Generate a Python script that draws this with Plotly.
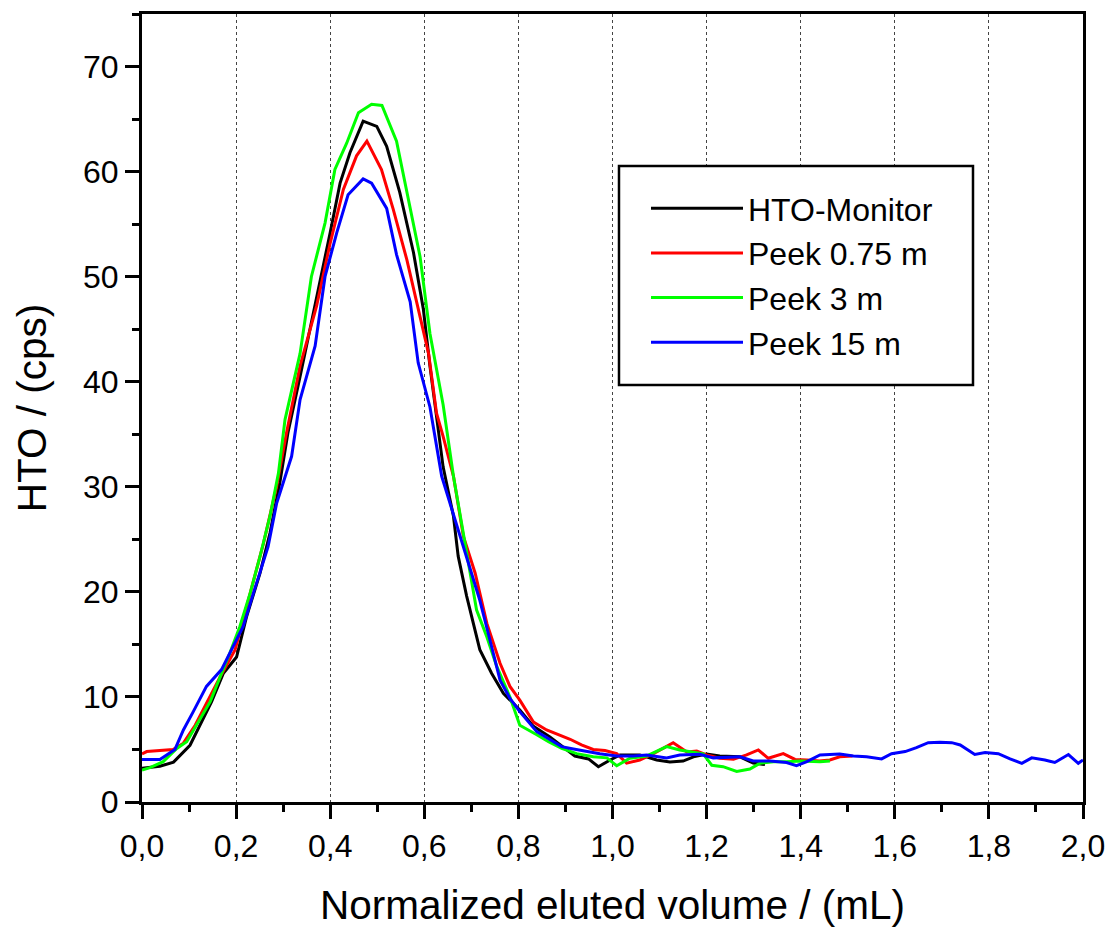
import plotly.graph_objects as go

black_x = [0.0, 0.038, 0.067, 0.102, 0.148, 0.173, 0.201, 0.222, 0.251, 0.272,
           0.293, 0.31, 0.336, 0.368, 0.40, 0.421, 0.442, 0.470, 0.499, 0.52,
           0.548, 0.577, 0.598, 0.612, 0.626, 0.640, 0.662, 0.672, 0.69, 0.718,
           0.743, 0.768, 0.803, 0.832, 0.867, 0.895, 0.92, 0.949, 0.97, 0.995,
           1.016, 1.058, 1.094, 1.122, 1.15, 1.172, 1.20, 1.228, 1.271, 1.299, 1.324]
black_y = [3.2, 3.4, 3.8, 5.4, 9.55, 12.25, 13.8, 17.6, 21.8, 25.6,
           30.4, 35.1, 40.5, 47.2, 54.2, 58.9, 61.8, 64.8, 64.3, 62.4,
           58.0, 52.3, 46.9, 41.5, 36.7, 31.9, 27.2, 23.4, 19.6, 14.5,
           12.25, 10.35, 8.76, 7.2, 6.2, 5.27, 4.38, 4.1, 3.36, 4.0,
           4.48, 4.48, 4.0, 3.8, 3.9, 4.3, 4.57, 4.38, 4.3, 3.7, 3.57]

red_x = [0.0, 0.01, 0.066, 0.088, 0.113, 0.137, 0.166, 0.198, 0.23, 0.258,
         0.286, 0.307, 0.336, 0.371, 0.40, 0.428, 0.456, 0.478, 0.509, 0.534,
         0.563, 0.591, 0.609, 0.626, 0.64, 0.662, 0.683, 0.708, 0.733, 0.761,
         0.782, 0.803, 0.832, 0.86, 0.881, 0.91, 0.934, 0.959, 0.984, 1.009,
         1.03, 1.058, 1.087, 1.108, 1.129, 1.158, 1.179, 1.20, 1.228, 1.257,
         1.285, 1.31, 1.331, 1.363, 1.388, 1.413, 1.44, 1.462, 1.483, 1.51]
red_y = [4.57, 4.8, 5.0, 5.6, 7.3, 9.4, 11.9, 14.5, 19.9, 24.6,
         30.0, 35.1, 41.5, 47.2, 53.2, 58.3, 61.5, 62.9, 60.2, 56.4,
         51.6, 46.2, 42.7, 37.0, 34.8, 31.0, 25.3, 21.8, 17.0, 13.2,
         11.0, 9.7, 7.6, 6.86, 6.5, 5.97, 5.43, 5.0, 4.9, 4.6,
         3.7, 4.0, 4.6, 5.1, 5.65, 4.77, 4.86, 4.48, 4.16, 4.06,
         4.48, 4.95, 4.16, 4.6, 4.05, 4.0, 3.9, 4.0, 4.3, 4.38]

green_x = [0.0, 0.017, 0.045, 0.074, 0.095, 0.123, 0.145, 0.166, 0.187, 0.208,
           0.23, 0.251, 0.272, 0.29, 0.304, 0.336, 0.36, 0.389, 0.41, 0.435,
           0.46, 0.488, 0.51, 0.541, 0.566, 0.591, 0.612, 0.64, 0.662, 0.683,
           0.711, 0.733, 0.754, 0.782, 0.803, 0.839, 0.864, 0.892, 0.924, 0.959,
           0.988, 1.009, 1.037, 1.073, 1.094, 1.115, 1.143, 1.172, 1.193, 1.211,
           1.235, 1.264, 1.292, 1.313, 1.342, 1.37, 1.40, 1.441, 1.462]
green_y = [3.05, 3.27, 3.84, 5.1, 5.74, 7.8, 9.55, 11.9, 14.2, 16.7,
           19.9, 23.4, 27.2, 31.3, 36.4, 42.7, 50.0, 55.1, 60.2, 62.7,
           65.6, 66.4, 66.3, 62.9, 57.3, 51.9, 44.6, 37.8, 31.0, 25.6,
           18.3, 15.7, 12.9, 10.0, 7.3, 6.4, 5.74, 5.1, 4.6, 4.3,
           4.2, 3.45, 4.16, 4.38, 4.8, 5.27, 4.95, 4.7, 4.57, 3.5,
           3.36, 2.9, 3.14, 3.68, 3.84, 3.84, 3.9, 3.84, 3.9]

blue_x = [0.0, 0.038, 0.07, 0.088, 0.109, 0.137, 0.169, 0.194, 0.215, 0.237,
          0.268, 0.286, 0.318, 0.336, 0.368, 0.389, 0.414, 0.438, 0.47, 0.488,
          0.52, 0.541, 0.57, 0.587, 0.612, 0.637, 0.655, 0.69, 0.718, 0.743,
          0.761, 0.782, 0.803, 0.839, 0.867, 0.892, 0.917, 0.945, 0.973, 1.009,
          1.044, 1.073, 1.115, 1.143, 1.186, 1.214, 1.243, 1.271, 1.299, 1.335,
          1.37, 1.391, 1.413, 1.441, 1.483, 1.512, 1.54, 1.572, 1.593, 1.622,
          1.646, 1.671, 1.696, 1.721, 1.739, 1.770, 1.792, 1.82, 1.845, 1.87,
          1.891, 1.919, 1.94, 1.969, 1.99, 2.0]
blue_y = [4.05, 4.05, 5.0, 6.86, 8.6, 11.0, 12.6, 14.8, 16.7, 19.9,
          24.3, 28.4, 32.9, 38.3, 43.4, 50.0, 54.2, 57.8, 59.3, 58.9,
          56.5, 52.1, 47.6, 41.8, 37.6, 31.0, 28.4, 23.4, 19.2, 14.8,
          11.6, 9.86, 8.6, 6.7, 5.9, 5.27, 5.05, 4.8, 4.6, 4.38,
          4.38, 4.48, 4.2, 4.48, 4.54, 4.2, 4.23, 4.3, 3.9, 3.9,
          3.76, 3.45, 3.84, 4.48, 4.57, 4.38, 4.3, 4.1, 4.6, 4.8,
          5.17, 5.65, 5.68, 5.65, 5.43, 4.52, 4.7, 4.6, 4.1, 3.68,
          4.2, 4.0, 3.76, 4.52, 3.68, 4.0]

series_names = ["HTO-Monitor", "Peek 0.75 m", "Peek 3 m", "Peek 15 m"]
series_colors = ["#000000", "#FF0000", "#00FF00", "#0000FF"]
series_data = [(black_x, black_y), (red_x, red_y), (green_x, green_y), (blue_x, blue_y)]

x_title = "Normalized eluted volume / (mL)"
y_title = "HTO / (cps)"

fig = go.Figure()
for name, color, (xs, ys) in zip(series_names, series_colors, series_data):
    fig.add_trace(go.Scatter(x=xs, y=ys, mode="lines", name=name,
                             line=dict(color=color, width=3)))

FONT = "Arial, Liberation Sans, sans-serif"

# legend frame (drawn as a white box with black border)
fig.add_shape(type="rect", xref="paper", yref="paper",
              x0=0.5069, x1=0.8831, y0=0.5292, y1=0.8071,
              line=dict(color="black", width=2.5), fillcolor="white", layer="above")

fig.update_layout(
    width=1115, height=928,
    margin=dict(l=142, r=32, t=14, b=126, autoexpand=False),
    plot_bgcolor="white", paper_bgcolor="white",
    separators=",.",
    font=dict(family=FONT, color="black"),
    showlegend=True,
    legend=dict(
        x=0.5356, y=0.788, xanchor="left", yanchor="top",
        bgcolor="rgba(0,0,0,0)", borderwidth=0,
        font=dict(size=32, family=FONT, color="black"),
        itemwidth=92,
    ),
)

fig.update_xaxes(
    range=[0, 2], tick0=0, dtick=0.2, tickformat=".1f",
    ticks="outside", ticklen=14, tickwidth=3, tickcolor="black",
    tickfont=dict(size=32, family=FONT, color="black"),
    showline=True, linewidth=3, linecolor="black", mirror=True,
    showgrid=True, gridcolor="#444444", griddash="dot", gridwidth=1,
    zeroline=False, automargin=False,
    minor=dict(dtick=0.1, ticklen=7, tickwidth=3, tickcolor="black", ticks="outside", showgrid=False),
    title=dict(text=x_title, font=dict(size=40.5, family=FONT, color="black"), standoff=34),
)
fig.update_yaxes(
    range=[0, 75], tick0=0, dtick=10,
    ticks="outside", ticklen=14, tickwidth=3, tickcolor="black",
    tickfont=dict(size=32, family=FONT, color="black"),
    showline=True, linewidth=3, linecolor="black", mirror=True,
    showgrid=False, zeroline=False, automargin=False,
    minor=dict(dtick=5, ticklen=7, tickwidth=3, tickcolor="black", ticks="outside", showgrid=False),
    title=dict(text=y_title, font=dict(size=40.5, family=FONT, color="black"), standoff=24),
)

fig.write_html("out.html")
